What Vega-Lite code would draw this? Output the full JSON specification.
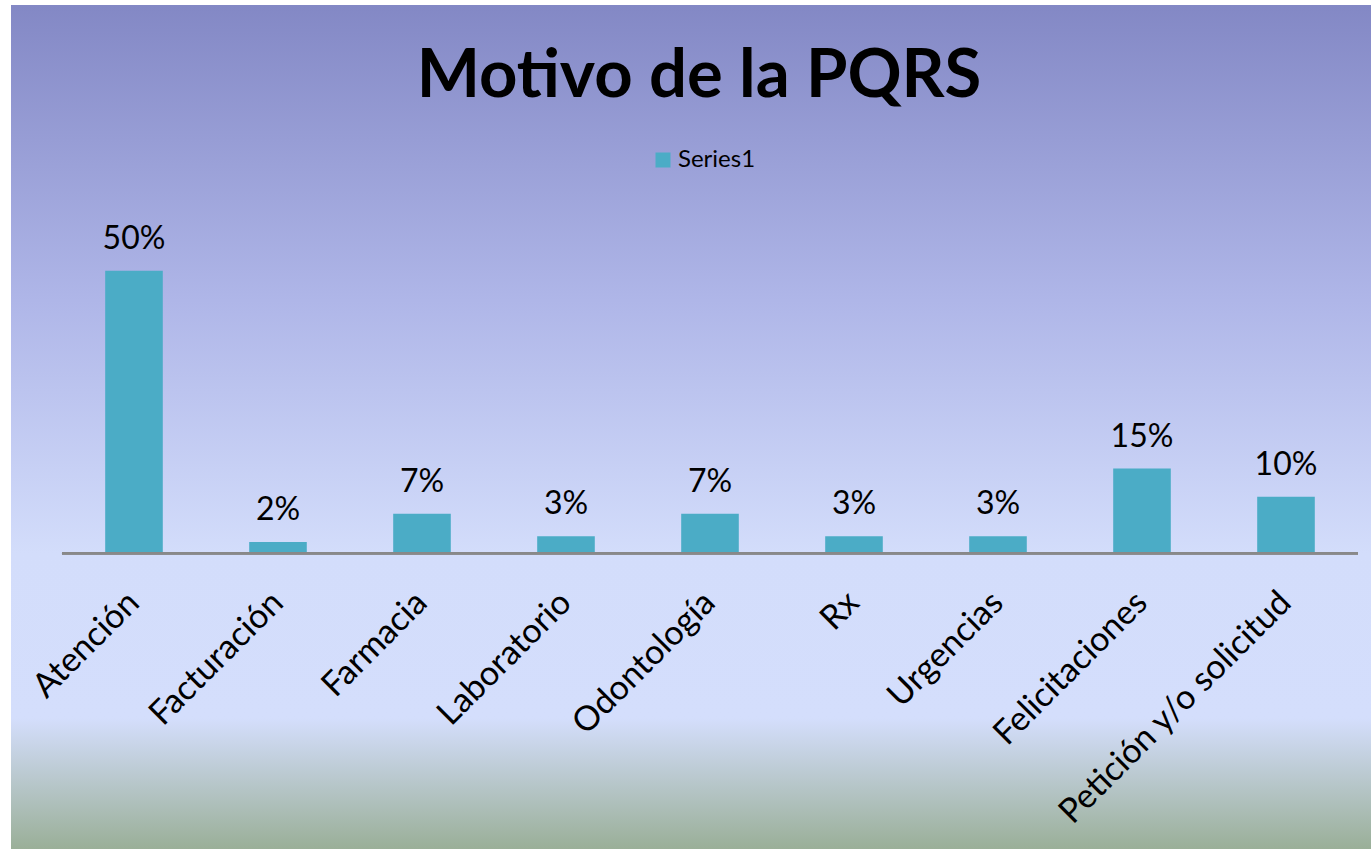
{
  "$schema": "https://vega.github.io/schema/vega-lite/v6.json",
  "width": 1360,
  "height": 844,
  "autosize": "none",
  "padding": {"left": 11, "top": 5, "right": 0, "bottom": 0},
  "background": "white",
  "view": {
    "stroke": null,
    "fill": {
      "gradient": "linear",
      "x1": 0, "y1": 0, "x2": 0, "y2": 1,
      "stops": [
        {"offset": 0, "color": "#8388c5"},
        {"offset": 0.35, "color": "#afb6e8"},
        {"offset": 0.65, "color": "#d3ddfb"},
        {"offset": 0.845, "color": "#d4defc"},
        {"offset": 1, "color": "#9aaf98"}
      ]
    }
  },
  "title": {
    "text": "Motivo de la PQRS",
    "font": "Lato",
    "fontSize": 67,
    "fontWeight": "bold",
    "color": "black",
    "anchor": "middle",
    "frame": "group",
    "baseline": "alphabetic",
    "offset": -159,
    "dx": 8
  },
  "data": {
    "values": [
      {"motivo": "Atención", "valor": 0.50},
      {"motivo": "Facturación", "valor": 0.02},
      {"motivo": "Farmacia", "valor": 0.07},
      {"motivo": "Laboratorio", "valor": 0.03},
      {"motivo": "Odontología", "valor": 0.07},
      {"motivo": "Rx", "valor": 0.03},
      {"motivo": "Urgencias", "valor": 0.03},
      {"motivo": "Felicitaciones", "valor": 0.15},
      {"motivo": "Petición y/o solicitud", "valor": 0.10}
    ]
  },
  "layer": [
    {
      "mark": {"type": "bar"},
      "encoding": {
        "x": {
          "field": "motivo",
          "type": "nominal",
          "sort": null,
          "scale": {"paddingInner": 0.6, "paddingOuter": 0.5222, "align": 0.6263},
          "axis": {
            "orient": "bottom",
            "offset": -295.7,
            "title": null,
            "domain": false,
            "ticks": false,
            "grid": false,
            "labelAngle": -45,
            "labelAlign": "right",
            "labelBaseline": "middle",
            "labelPadding": 44,
            "labelFont": "Lato",
            "labelFontSize": 34,
            "labelColor": "black",
            "labelLimit": 700,
            "labelOverlap": false,
            "labelBound": false
          }
        },
        "y": {
          "field": "valor",
          "type": "quantitative",
          "scale": {"domain": [-0.5232, 0.9701], "nice": false, "zero": false},
          "axis": null
        },
        "color": {
          "datum": "Series1",
          "type": "nominal",
          "scale": {"range": ["#4bacc6"]},
          "legend": {
            "orient": "none",
            "legendX": 640,
            "legendY": 143,
            "title": null,
            "padding": 0,
            "symbolType": "square",
            "symbolSize": 225,
            "symbolStrokeWidth": 0,
            "labelFont": "Lato",
            "labelFontSize": 24,
            "labelColor": "black",
            "labelOffset": 3
          }
        }
      }
    },
    {
      "mark": {"type": "text", "font": "Lato", "fontSize": 32, "color": "black", "baseline": "alphabetic", "align": "center", "dy": -22},
      "encoding": {
        "x": {"field": "motivo", "type": "nominal", "sort": null},
        "y": {"field": "valor", "type": "quantitative"},
        "text": {"field": "valor", "type": "quantitative", "format": ".0%"}
      }
    },
    {
      "mark": {"type": "rule", "color": "#898989", "strokeWidth": 2},
      "encoding": {
        "x": {"datum": "Atención", "type": "nominal", "bandPosition": -0.75},
        "x2": {"datum": "Petición y/o solicitud", "bandPosition": 1.75},
        "y": {"datum": 0, "type": "quantitative"}
      }
    }
  ]
}
